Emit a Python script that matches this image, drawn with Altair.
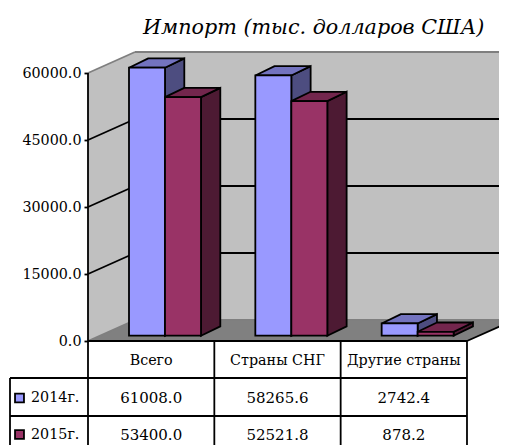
import altair as alt
import pandas as pd

TITLE = "Импорт (тыс. долларов США)"
categories = ["Всего", "Страны СНГ", "Другие страны"]
series_names = ["2014г.", "2015г."]
values_2014 = [61008.0, 58265.6, 2742.4]
values_2015 = [53400.0, 52521.8, 878.2]
axis_ticks = [0, 15000, 30000, 45000, 60000]
AXIS_MAX = 60000

FRONT = ["#9999FF", "#993366"]
TOP = ["#7373BF", "#73264D"]
SIDE = ["#4D4D80", "#4D1A33"]
WALL = "#C0C0C0"
FLOOR = "#808080"
FONT = "DejaVu Serif"

# layout, in scale units (1 x unit = one category, y unit = axis value)
PXV = 15000 / 67
Y_DOMAIN = [-104 * PXV, 289 * PXV]
X_DOMAIN = [0, 411 / 126.33]
WALL_DX, WALL_DY = 47 / 126.33, 21 * PXV
BAR_X0, BAR_W = 41 / 126.33, 36 / 126.33
BAR_DX, BAR_DY = 19.3 / 126.33, 9.3 * PXV
BAR_BASE = 5.3 * PXV
ROW_EDGES = [0, -37 * PXV, -75 * PXV, Y_DOMAIN[0]]
ROW_MID = [-19.5 * PXV, -57 * PXV, -93.5 * PXV]
LEFT_EDGE = -78 / 126.33
SW = 1.8

xs = alt.Scale(domain=X_DOMAIN, nice=False, zero=False)
ys = alt.Scale(domain=Y_DOMAIN, nice=False, zero=False)
y_axis = alt.Axis(values=axis_ticks, format=".1f", title=None, domain=False, grid=False,
                  tickColor="black", tickSize=4, tickWidth=SW, labelFont=FONT, labelFontSize=14.3,
                  labelColor="black", labelPadding=3)


def X(f="x"):
    return alt.X(f"{f}:Q", scale=xs, axis=None)


def Y(f="y"):
    return alt.Y(f"{f}:Q", scale=ys, axis=y_axis)


def rules(rows, color, width=SW):
    return alt.Chart(pd.DataFrame(rows, columns=["x", "x2", "y", "y2"])).mark_rule(
        color=color, strokeWidth=width
    ).encode(x=X(), x2="x2:Q", y=Y(), y2="y2:Q")


# ----- walls and floor
side_wall = pd.DataFrame({"x": [0, WALL_DX], "y": [0, WALL_DY], "y2": [AXIS_MAX, AXIS_MAX + WALL_DY]})
back_wall = pd.DataFrame({"x": [WALL_DX, 3 + WALL_DX], "y": [WALL_DY] * 2, "y2": [AXIS_MAX + WALL_DY] * 2})
floor = pd.DataFrame({"y": [0, WALL_DY], "x": [0, WALL_DX], "x2": [3, 3 + WALL_DX]})

walls = alt.layer(
    alt.Chart(side_wall).mark_area(orient="vertical", color=WALL).encode(x=X(), y=Y(), y2="y2:Q"),
    alt.Chart(back_wall).mark_area(orient="vertical", color=WALL).encode(x=X(), y=Y(), y2="y2:Q"),
    alt.Chart(floor).mark_area(orient="horizontal", color=FLOOR).encode(y=Y(), x=X(), x2="x2:Q"),
)

# ----- gridlines
grid_black = []
for v in axis_ticks[1:-1]:
    grid_black.append((0, WALL_DX, v, v + WALL_DY))
    grid_black.append((WALL_DX, 3 + WALL_DX, v + WALL_DY, v + WALL_DY))
grid_gray = [
    (0, WALL_DX, AXIS_MAX, AXIS_MAX + WALL_DY),
    (WALL_DX, 3 + WALL_DX, AXIS_MAX + WALL_DY, AXIS_MAX + WALL_DY),
    (0, WALL_DX, 0, WALL_DY),
    (WALL_DX, 3 + WALL_DX, WALL_DY, WALL_DY),
]

# ----- 3D bars
fronts, sides, tops = [], [], []
for s, vals in enumerate([values_2014, values_2015]):
    for c, v in enumerate(vals):
        x0 = c + BAR_X0 + s * BAR_W
        x1 = x0 + BAR_W
        h = BAR_BASE + min(v, AXIS_MAX)
        pid = f"{s}-{c}"
        fronts.append({"x": x0, "x2": x1, "y": BAR_BASE, "y2": h, "fill": FRONT[s]})
        sides += [
            {"id": pid, "x": x1, "y": BAR_BASE, "y2": h, "fill": SIDE[s]},
            {"id": pid, "x": x1 + BAR_DX, "y": BAR_BASE + BAR_DY, "y2": h + BAR_DY, "fill": SIDE[s]},
        ]
        tops += [
            {"id": pid, "y": h, "x": x0, "x2": x1, "fill": TOP[s]},
            {"id": pid, "y": h + BAR_DY, "x": x0 + BAR_DX, "x2": x1 + BAR_DX, "fill": TOP[s]},
        ]

fill = alt.Color("fill:N", scale=None, legend=None)
side_layer = alt.Chart(pd.DataFrame(sides)).mark_area(
    orient="vertical", stroke="black", strokeWidth=SW
).encode(x=X(), y=Y(), y2="y2:Q", color=fill, detail="id:N")
top_layer = alt.Chart(pd.DataFrame(tops)).mark_area(
    orient="horizontal", stroke="black", strokeWidth=SW
).encode(y=Y(), x=X(), x2="x2:Q", color=fill, detail="id:N")
front_layer = alt.Chart(pd.DataFrame(fronts)).mark_rect(
    stroke="black", strokeWidth=SW
).encode(x=X(), x2="x2:Q", y=Y(), y2="y2:Q", color=fill)

# ----- axis line, floor edge and data table
table_rules = [
    (0, 0, AXIS_MAX, Y_DOMAIN[0]),
    (0, 3, 0, 0),
    (3, 3 + WALL_DX, 0, WALL_DY),
    (LEFT_EDGE, 3, ROW_EDGES[1], ROW_EDGES[1]),
    (LEFT_EDGE, 3, ROW_EDGES[2], ROW_EDGES[2]),
    (LEFT_EDGE, LEFT_EDGE, ROW_EDGES[1], ROW_EDGES[3]),
    (1, 1, 0, Y_DOMAIN[0]),
    (2, 2, 0, Y_DOMAIN[0]),
    (3, 3, 0, Y_DOMAIN[0]),
]

cells = []
for c, name in enumerate(categories):
    cells.append({"x": c + 0.5, "y": ROW_MID[0], "t": name, "size": 14.3})
    cells.append({"x": c + 0.5, "y": ROW_MID[1], "t": f"{values_2014[c]:.1f}", "size": 15})
    cells.append({"x": c + 0.5, "y": ROW_MID[2], "t": f"{values_2015[c]:.1f}", "size": 15})
cell_layer = alt.Chart(pd.DataFrame(cells)).mark_text(
    font=FONT, color="black", align="center", baseline="middle"
).encode(x=X(), y=Y(), text="t:N", size=alt.Size("size:Q", scale=None, legend=None))

legend_df = pd.DataFrame({
    "t": series_names,
    "y": ROW_MID[1:],
    "fill": FRONT,
    "x": [LEFT_EDGE + 18 / 126.33] * 2,
    "kx": [LEFT_EDGE + 9.5 / 126.33] * 2,
})
legend_text = alt.Chart(legend_df).mark_text(
    font=FONT, fontSize=14.3, color="black", align="left", baseline="middle", dx=3
).encode(x=X(), y=Y(), text="t:N")
legend_keys = alt.Chart(legend_df).mark_point(
    shape="square", size=80, filled=True, stroke="black", strokeWidth=SW, opacity=1
).encode(x=X("kx"), y=Y(), color=fill)

chart = alt.layer(
    walls,
    rules(grid_gray, "#7F7F7F"),
    rules(grid_black, "black"),
    side_layer,
    top_layer,
    front_layer,
    rules(table_rules, "black"),
    cell_layer,
    legend_keys,
    legend_text,
).properties(
    width=411,
    height=393,
    autosize=alt.AutoSizeParams(type="none"),
    padding={"left": 80, "top": 44, "right": 0, "bottom": 0},
    title=alt.TitleParams(
        TITLE, font=FONT, fontSize=20.7, fontStyle="italic", fontWeight="normal", color="black",
        anchor="start", dx=55, offset=12, frame="group",
    ),
).configure_view(stroke=None)

chart.save("out.html", embed_options={"renderer": "svg", "actions": False})
